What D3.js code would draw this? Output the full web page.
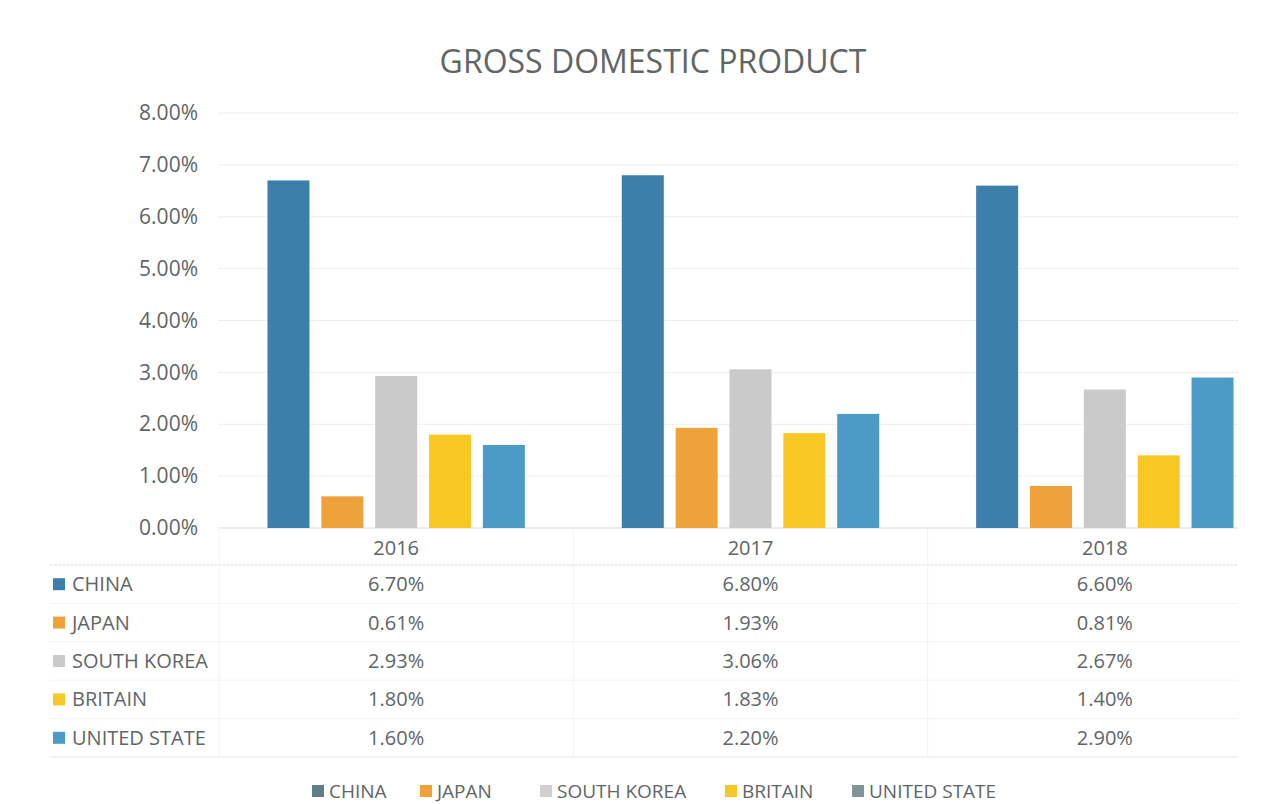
<!DOCTYPE html>
<html>
<head>
<meta charset="utf-8">
<script src="https://cdn.jsdelivr.net/npm/d3@7"></script>
<style>
  body { margin: 0; background: #fff; }
  svg { display: block; font-family: "Open Sans", sans-serif; }
</style>
</head>
<body>
<div id="chart"></div>
<script>
// Data
const years = ['2016', '2017', '2018'];
const countries = ['CHINA', 'JAPAN', 'SOUTH KOREA', 'BRITAIN', 'UNITED STATE'];
const china = [6.70, 6.80, 6.60];
const japan = [0.61, 1.93, 0.81];
const southKorea = [2.93, 3.06, 2.67];
const britain = [1.80, 1.83, 1.40];
const unitedState = [1.60, 2.20, 2.90];
const yTicks = [0, 1, 2, 3, 4, 5, 6, 7, 8];
const colors = ['#3d7fab', '#f0a23a', '#c9cac9', '#f7c824', '#4b9bc6'];
const legendColors = ['#5d7f86', '#f0a23a', '#cfd0cf', '#f7c824', '#7f9698'];

const series = [china, japan, southKorea, britain, unitedState];

const width = 1279, height = 804;
const textColor = '#606566';
const fs = 20;

const svg = d3.select('#chart').append('svg')
    .attr('width', width).attr('height', height);

// Scales
const x = d3.scaleBand().domain(years).range([219, 1282]);
const xInner = d3.scaleBand().domain(countries)
    .range([0, x.bandwidth()]).paddingOuter(0.9).paddingInner(0.22);
const y = d3.scaleLinear().domain([0, 8]).range([528, 113]);
const gridRight = 1238;

// Title
svg.append('text')
    .attr('x', 653).attr('y', 73)
    .attr('text-anchor', 'middle')
    .attr('font-size', 32)
    .attr('fill', textColor)
    .text('GROSS DOMESTIC PRODUCT');

// Gridlines
svg.append('g').selectAll('line')
    .data(yTicks)
    .join('line')
    .attr('x1', 219).attr('x2', gridRight)
    .attr('y1', d => y(d)).attr('y2', d => y(d))
    .attr('stroke', d => d === 0 ? '#dadada' : '#e8e8e8')
    .attr('stroke-dasharray', d => d === 0 ? null : '3,1')
    .attr('stroke-width', 1);

// Y axis labels
const yAxis = svg.append('g')
    .attr('transform', 'translate(211,0)')
    .call(d3.axisLeft(y).tickValues(yTicks).tickSize(0).tickPadding(13)
        .tickFormat(d => d.toFixed(2) + '%'));
yAxis.select('.domain').remove();
yAxis.selectAll('text')
    .attr('font-family', '"Open Sans", sans-serif')
    .attr('font-size', 21)
    .attr('fill', textColor);

// Bars
const groups = svg.append('g').selectAll('g')
    .data(years)
    .join('g')
    .attr('transform', d => `translate(${x(d)},0)`);

groups.selectAll('rect')
    .data((yr, i) => countries.map((c, k) => ({ country: c, value: series[k][i], k })))
    .join('rect')
    .attr('x', d => xInner(d.country))
    .attr('width', xInner.bandwidth())
    .attr('y', d => y(d.value))
    .attr('height', d => y(0) - y(d.value))
    .attr('fill', d => colors[d.k]);

// Data table
const rowY = d3.scaleBand().domain(countries).range([565, 757]);
const table = svg.append('g');

// table lines
table.append('line')
    .attr('x1', 50).attr('x2', gridRight)
    .attr('y1', 565).attr('y2', 565)
    .attr('stroke', '#dcdcdc')
    .attr('stroke-dasharray', '3,1');
table.append('g').selectAll('line')
    .data(countries.slice(1))
    .join('line')
    .attr('x1', 50).attr('x2', gridRight)
    .attr('y1', d => rowY(d)).attr('y2', d => rowY(d))
    .attr('stroke', '#f3f3f3');
table.append('line')
    .attr('x1', 50).attr('x2', gridRight)
    .attr('y1', 757).attr('y2', 757)
    .attr('stroke', '#e6e6e6');
table.append('g').selectAll('line')
    .data(years)
    .join('line')
    .attr('x1', d => x(d)).attr('x2', d => x(d))
    .attr('y1', 528).attr('y2', 757)
    .attr('stroke', '#f2f2f2');

// year headers
table.append('g').selectAll('text')
    .data(years)
    .join('text')
    .attr('x', d => x(d) + x.bandwidth() / 2)
    .attr('y', 555)
    .attr('text-anchor', 'middle')
    .attr('font-size', fs)
    .attr('fill', textColor)
    .text(d => d);

// row labels with swatches
const rows = table.append('g').selectAll('g')
    .data(countries)
    .join('g')
    .attr('transform', d => `translate(0,${rowY(d) + rowY.bandwidth() / 2})`);
rows.append('rect')
    .attr('x', 53).attr('y', -6)
    .attr('width', 12).attr('height', 12)
    .attr('fill', (d, i) => colors[i]);
rows.append('text')
    .attr('x', 72).attr('y', 7)
    .attr('font-size', fs)
    .attr('fill', textColor)
    .text(d => d);
rows.selectAll('text.val')
    .data((d, i) => series[i].map((v, j) => ({ v, yr: years[j] })))
    .join('text')
    .classed('val', true)
    .attr('x', d => x(d.yr) + x.bandwidth() / 2)
    .attr('y', 7)
    .attr('text-anchor', 'middle')
    .attr('font-size', fs)
    .attr('fill', textColor)
    .text(d => d.v.toFixed(2) + '%');

// Bottom legend
const legendX = [312, 420, 540, 725, 852];
const legend = svg.append('g').selectAll('g')
    .data(countries)
    .join('g')
    .attr('transform', (d, i) => `translate(${legendX[i]},791)`);
legend.append('rect')
    .attr('x', 0).attr('y', -6)
    .attr('width', 12).attr('height', 12)
    .attr('fill', (d, i) => legendColors[i]);
legend.append('text')
    .attr('x', 17).attr('y', 7)
    .attr('font-size', 19)
    .attr('fill', textColor)
    .text(d => d);
</script>
</body>
</html>
